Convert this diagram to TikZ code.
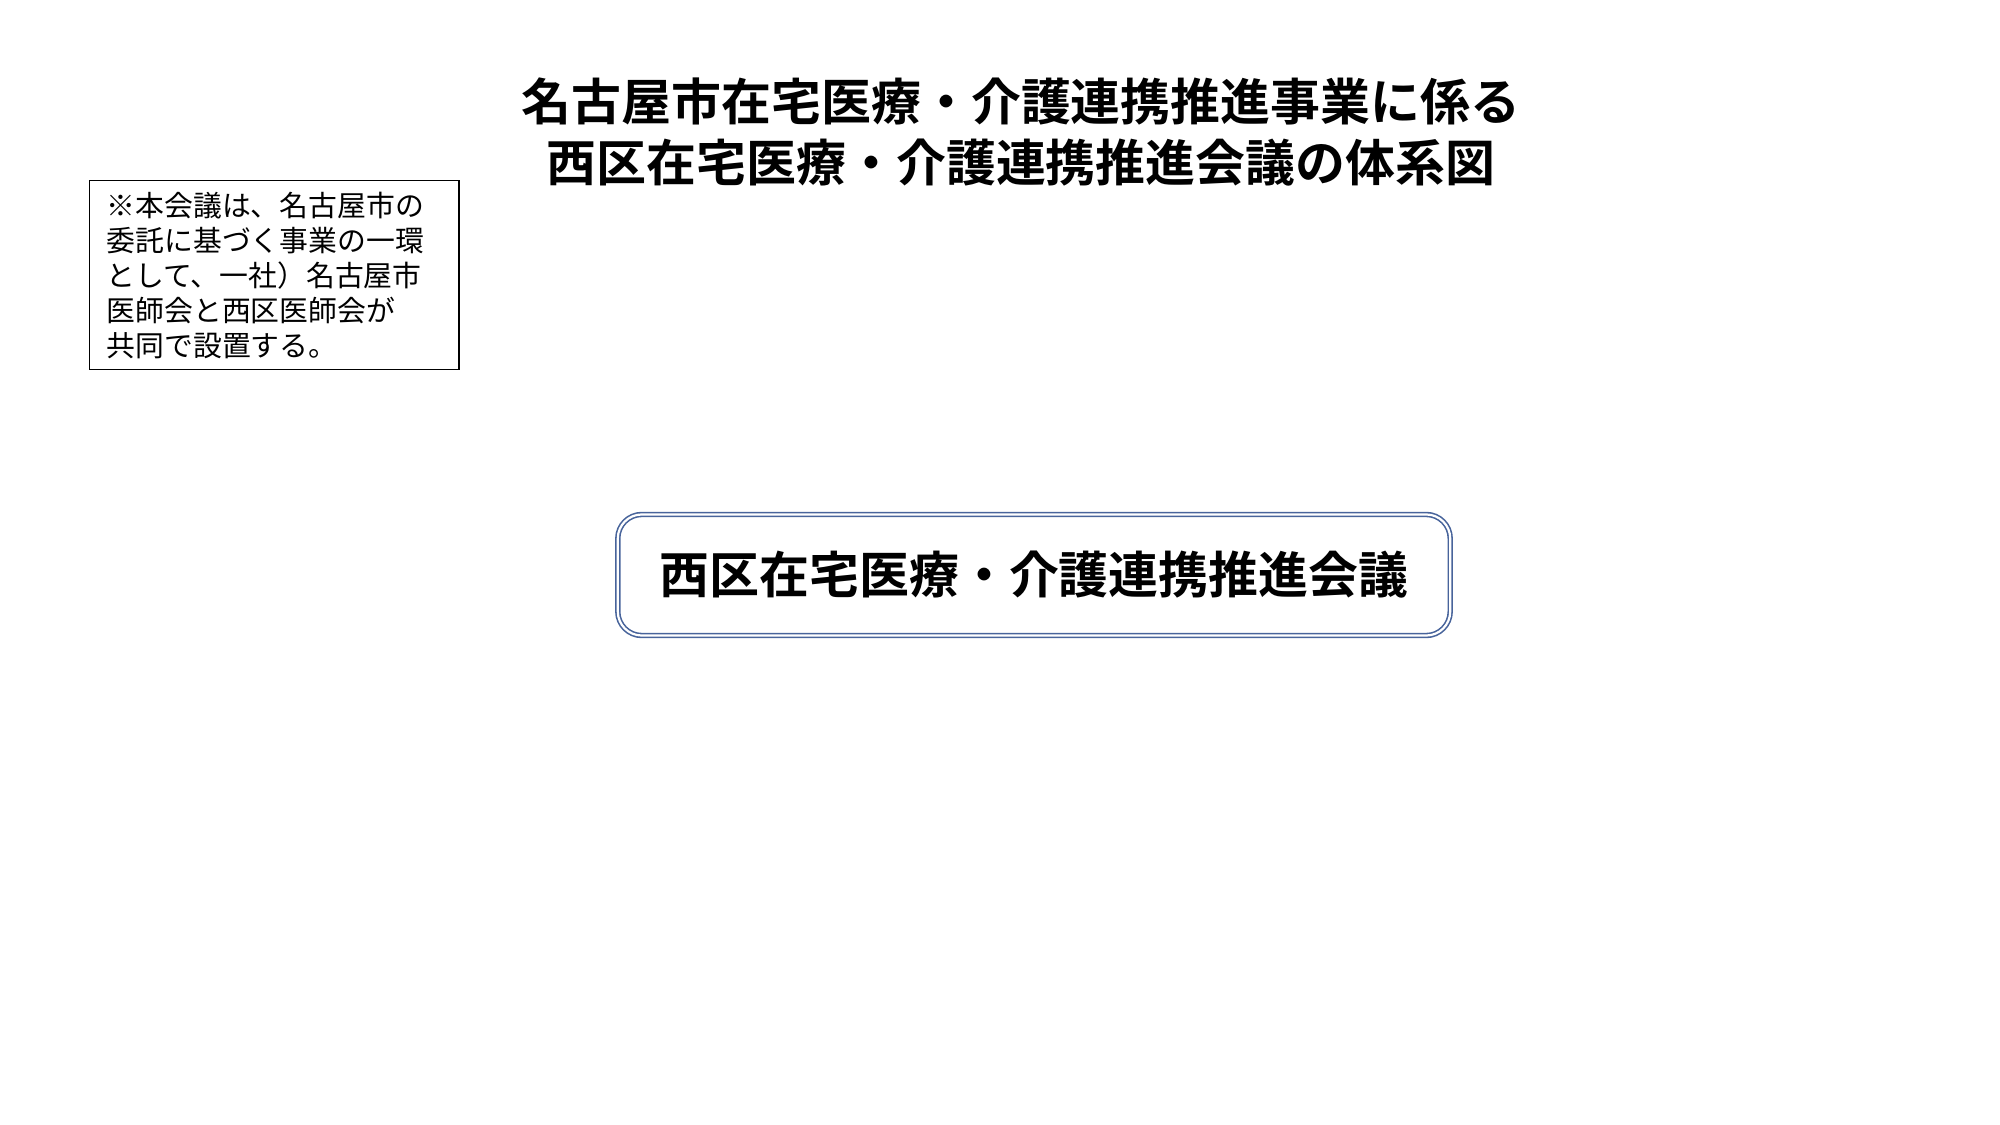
\documentclass[tikz,border=0pt]{standalone}
\usepackage{fontspec}
\newfontfamily\cjk{Noto Sans CJK JP}
\newfontfamily\cjkb{Noto Sans CJK JP Bold}
\definecolor{boxblue}{RGB}{72,100,155}
\begin{document}
\begin{tikzpicture}[x=0.01cm,y=-0.01cm,
  titletext/.style={align=center,font=\cjkb\fontsize{14.2pt}{17.5pt}\selectfont,inner sep=0pt},
  notebox/.style={draw=black,line width=1.4*0.2845pt,anchor=north west,align=left,
    text width=335*0.2845pt,inner xsep=17*0.2845pt,inner ysep=11*0.2845pt,
    font=\cjk\fontsize{8.2pt}{9.95pt}\selectfont},
  mainbox/.style={draw=boxblue,double=white,double distance=2.2*0.2845pt,line width=1.6*0.2845pt,
    rounded corners=24*0.2845pt,minimum width=832*0.2845pt,minimum height=121*0.2845pt,
    font=\cjkb\fontsize{14.2pt}{17pt}\selectfont}]
\useasboundingbox (0,0) rectangle (2000,1125);
\node[titletext] (title) at (1021,132) {名古屋市在宅医療・介護連携推進事業に係る\\西区在宅医療・介護連携推進会議の体系図};
\node[notebox] (note) at (89,180) {※本会議は、名古屋市の\\委託に基づく事業の一環\\として、一社）名古屋市\\医師会と西区医師会が\\共同で設置する。};
\node[mainbox] (main) at (1034,575) {西区在宅医療・介護連携推進会議};
\end{tikzpicture}
\end{document}
